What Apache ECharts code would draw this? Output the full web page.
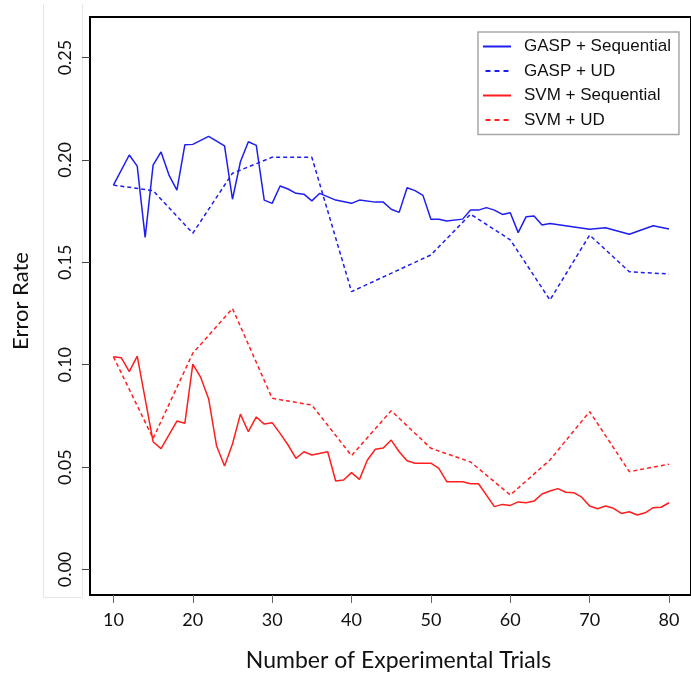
<!DOCTYPE html>
<html>
<head>
<meta charset="utf-8">
<script src="https://cdn.jsdelivr.net/npm/echarts@6/dist/echarts.min.js"></script>
<style>
  html, body { margin: 0; padding: 0; background: #fff; }
  #chart { width: 691px; height: 677px; }
</style>
</head>
<body>
<div id="chart"></div>
<script>
// trials (x) and error rates (y)
const gaspSeqTrials = [10, 12, 13, 14, 15, 16, 17, 18, 19, 20, 22, 24, 25, 26, 27, 28, 29, 30, 31, 32, 33, 34, 35, 36, 38, 40, 41, 43, 44, 45, 46, 47, 48, 49, 50, 51, 52, 54, 55, 56, 57, 58, 59, 60, 61, 62, 63, 64, 65, 70, 72, 75, 78, 80];
const gaspSeqRate = [0.1877, 0.2024, 0.197, 0.1622, 0.1975, 0.2039, 0.1926, 0.1853, 0.2074, 0.2076, 0.2115, 0.2069, 0.1808, 0.1991, 0.2089, 0.2071, 0.1804, 0.1788, 0.1873, 0.1858, 0.1837, 0.1833, 0.180, 0.1837, 0.1804, 0.1788, 0.1804, 0.1794, 0.1794, 0.1759, 0.1744, 0.1864, 0.185, 0.1827, 0.171, 0.171, 0.1702, 0.1711, 0.1755, 0.1755, 0.1767, 0.1755, 0.1734, 0.1742, 0.1645, 0.1723, 0.1726, 0.1682, 0.169, 0.1661, 0.1669, 0.1637, 0.1679, 0.1663];

const gaspUdTrials = [10, 15, 20, 25, 30, 35, 40, 50, 55, 60, 65, 70, 75, 80];
const gaspUdRate = [0.1877, 0.185, 0.1642, 0.1935, 0.2013, 0.2013, 0.1357, 0.1536, 0.1735, 0.161, 0.1316, 0.1633, 0.1454, 0.1443];

const svmSeqTrials = [10, 11, 12, 13, 15, 16, 17, 18, 19, 20, 21, 22, 23, 24, 25, 26, 27, 28, 29, 30, 31, 32, 33, 34, 35, 37, 38, 39, 40, 41, 42, 43, 44, 45, 46, 47, 48, 50, 51, 52, 54, 55, 56, 58, 59, 60, 61, 62, 63, 64, 65, 66, 67, 68, 69, 70, 71, 72, 73, 74, 75, 76, 77, 78, 79, 80];
const svmSeqRate = [0.1039, 0.1034, 0.0966, 0.1042, 0.0624, 0.059, 0.0657, 0.0725, 0.0714, 0.1003, 0.0938, 0.0833, 0.0603, 0.0505, 0.0613, 0.0759, 0.0673, 0.0745, 0.071, 0.0717, 0.0665, 0.0608, 0.0543, 0.0575, 0.0559, 0.0575, 0.0432, 0.0437, 0.0473, 0.044, 0.0535, 0.0587, 0.0593, 0.0632, 0.0575, 0.0531, 0.0519, 0.0519, 0.0494, 0.0429, 0.0429, 0.0419, 0.0419, 0.0307, 0.0318, 0.0313, 0.033, 0.0326, 0.0334, 0.0369, 0.0383, 0.0395, 0.0377, 0.0375, 0.0353, 0.031, 0.0297, 0.031, 0.0299, 0.0274, 0.0282, 0.0266, 0.0277, 0.0302, 0.0304, 0.0326];

const svmUdTrials = [10, 15, 20, 25, 30, 35, 40, 45, 50, 55, 60, 65, 70, 75, 80];
const svmUdRate = [0.1039, 0.064, 0.1056, 0.1275, 0.0836, 0.0803, 0.0556, 0.0775, 0.0592, 0.0525, 0.0364, 0.0535, 0.0771, 0.0478, 0.0514];

const xTicks = [10, 20, 30, 40, 50, 60, 70, 80];
const yTicks = [0, 0.05, 0.10, 0.15, 0.20, 0.25];

const seriesNames = ['GASP + Sequential', 'GASP + UD', 'SVM + Sequential', 'SVM + UD'];

// legend icons: a plain line and a three-dash line
const solidIcon = 'rect';
const dashIcon = 'path://M0,0h5v2h-5z M9,0h5v2h-5z M18,0h5v2h-5z';

function pairs(xs, ys) {
    return xs.map((x, i) => [x, ys[i]]);
}

const chart = echarts.init(document.getElementById('chart'));

function lineSeries(name, data, color, dashed) {
    return {
        name: name,
        type: 'line',
        data: data,
        symbol: 'none',
        animation: false,
        lineStyle: {
            color: color,
            width: 1.5,
            type: dashed ? [4, 3] : 'solid'
        },
        itemStyle: { color: color }
    };
}

const option = {
    backgroundColor: '#fff',
    animation: false,
    grid: {
        left: 90,
        top: 17,
        right: -9,
        bottom: 82,
        show: true,
        borderColor: '#000',
        borderWidth: 2,
        backgroundColor: '#fff'
    },
    // faint box around the y labels, as in the source image
    graphic: [{
        type: 'polyline',
        shape: { points: [[43.5, 4], [43.5, 597.5], [82.5, 597.5], [82.5, 4]] },
        style: { stroke: '#e6e6e6', lineWidth: 1, fill: null },
        silent: true
    }],
    legend: {
        orient: 'vertical',
        left: 478,
        top: 32,
        padding: [6, 8, 6, 5],
        itemWidth: 28,
        itemHeight: 2,
        itemGap: 7.5,
        backgroundColor: '#fff',
        borderColor: '#a8a8a8',
        borderWidth: 1.5,
        data: [
            { name: seriesNames[0], icon: solidIcon },
            { name: seriesNames[1], icon: dashIcon },
            { name: seriesNames[2], icon: solidIcon },
            { name: seriesNames[3], icon: dashIcon }
        ],
        textStyle: {
            fontFamily: 'Liberation Sans',
            fontSize: 17,
            lineHeight: 17,
            color: '#111',
            padding: [0, 0, 0, 8]
        }
    },
    xAxis: {
        type: 'value',
        min: 7.05,
        max: 82.77,
        name: 'Number of Experimental Trials',
        nameLocation: 'middle',
        nameGap: 54,
        nameTextStyle: { fontFamily: 'Lato', fontSize: 23, color: '#111', padding: [0, 0, 0, 16] },
        axisLine: { show: false, onZero: false },
        axisTick: {
            show: true,
            length: 8,
            customValues: xTicks,
            lineStyle: { color: '#666', width: 1 }
        },
        axisLabel: {
            customValues: xTicks,
            margin: 16,
            fontFamily: 'Lato',
            fontSize: 18,
            color: '#111'
        },
        splitLine: { show: false }
    },
    yAxis: {
        type: 'value',
        min: -0.01245,
        max: 0.2698,
        name: 'Error Rate',
        nameLocation: 'middle',
        nameGap: 58,
        nameTextStyle: { fontFamily: 'Lato', fontSize: 22, color: '#111', padding: [0, 0, 0, 10] },
        axisLine: { show: false, onZero: false },
        axisTick: {
            show: true,
            length: 8,
            customValues: yTicks,
            lineStyle: { color: '#444', width: 1 }
        },
        axisLabel: {
            customValues: yTicks,
            rotate: 90,
            align: 'center',
            verticalAlign: 'bottom',
            margin: 16,
            fontFamily: 'Lato',
            fontSize: 18,
            color: '#111',
            formatter: v => v.toFixed(2)
        },
        splitLine: { show: false }
    },
    series: [
        lineSeries(seriesNames[0], pairs(gaspSeqTrials, gaspSeqRate), '#1e1ef0', false),
        lineSeries(seriesNames[1], pairs(gaspUdTrials, gaspUdRate), '#1e1ef0', true),
        lineSeries(seriesNames[2], pairs(svmSeqTrials, svmSeqRate), '#ff1e1e', false),
        lineSeries(seriesNames[3], pairs(svmUdTrials, svmUdRate), '#ff1e1e', true)
    ]
};

chart.setOption(option);
</script>
</body>
</html>
